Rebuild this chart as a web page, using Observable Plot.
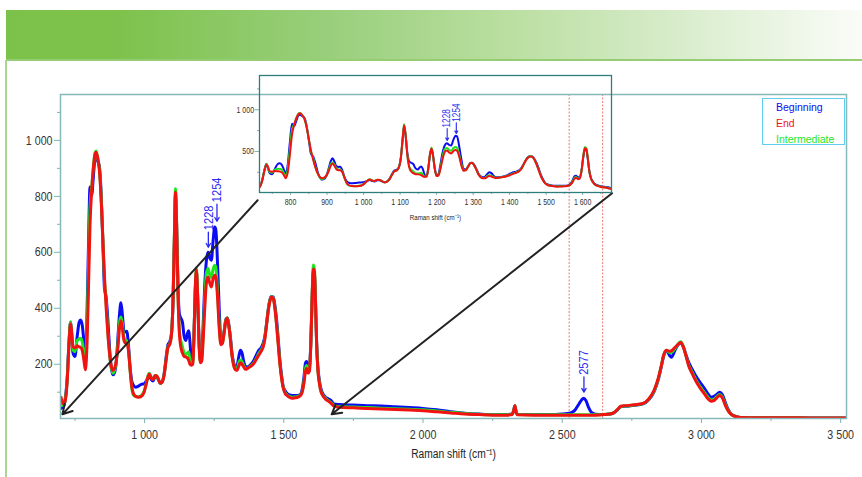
<!DOCTYPE html>
<html><head><meta charset="utf-8">
<script src="https://cdn.jsdelivr.net/npm/d3@7"></script>
<script src="https://cdn.jsdelivr.net/npm/@observablehq/plot@0.6"></script>
<style>
html,body{margin:0;padding:0;background:#fff;}
#page{position:relative;width:862px;height:477px;overflow:hidden;background:#fff;}
#band{position:absolute;left:6px;top:10px;width:856px;height:50px;
  background:linear-gradient(to right,#7cc14a 0%,#7ec24c 13%,#99cf7c 38%,#b9de9f 58%,#d7ecca 78%,#fafcf8 100%);}
#bandline{position:absolute;left:6px;top:59px;width:856px;height:2px;background:#96cc74;}
#sideline{position:absolute;left:5px;top:60px;width:2px;height:417px;background:#a9d690;}
.layer{position:absolute;left:0;top:0;}
#legend{position:absolute;left:762px;top:98px;width:83px;height:47px;box-sizing:border-box;
  border:1.5px solid #5fcdf0;padding:0 0 0 13px;font-family:"Liberation Sans",Arial,sans-serif;font-size:10.5px;line-height:16px;}
</style></head>
<body>
<div id="page">
  <div id="band"></div><div id="bandline"></div><div id="sideline"></div>
  <div id="main" class="layer"></div>
  <div id="inset" class="layer"></div>
  <div id="legend"></div>
</div>
<script>
// ---------- DATA ----------
const shift = [
  700,708,715,722,728,734,738,743,750,758,
  765,770,776,782,787,792,798,804,810,816,
  822,826,832,838,844,850,856,862,868,874,
  880,886,892,898,904,910,915,920,926,932,
  936,942,948,954,960,968,978,988,998,1006,
  1012,1017,1024,1030,1038,1044,1050,1056,1062,1070,
  1078,1084,1090,1096,1102,1107,1111,1115,1120,1125,
  1130,1136,1142,1148,1154,1158,1163,1168,1173,1177,
  1182,1186,1190,1195,1200,1205,1210,1216,1222,1228,
  1234,1240,1246,1252,1256,1262,1268,1274,1280,1286,
  1292,1297,1302,1308,1314,1320,1326,1332,1338,1344,
  1350,1356,1362,1370,1380,1390,1400,1410,1418,1426,
  1432,1438,1444,1450,1456,1462,1468,1474,1480,1486,
  1492,1498,1505,1512,1520,1530,1540,1550,1560,1566,
  1572,1578,1582,1587,1592,1597,1602,1606,1610,1614,
  1618,1622,1628,1634,1640,1650,1660,1670,1680,1700,
  1750,1800,1850,1900,1950,2000,2050,2100,2150,2200,
  2250,2300,2320,2326,2330,2334,2340,2400,2450,2500,
  2530,2545,2560,2570,2577,2585,2595,2605,2620,2650,
  2680,2700,2710,2730,2760,2790,2810,2830,2845,2855,
  2865,2875,2885,2892,2905,2915,2925,2935,2945,2955,
  2965,2980,2995,3010,3025,3035,3045,3055,3065,3075,
  3085,3095,3105,3120,3140,3200,3300,3400,3500,3520
];
const beginning = [
  42,48,75,150,270,350,300,240,228,300,
  350,358,340,280,230,330,600,833,805,870,
  935,940,925,905,810,640,470,440,360,260,
  190,162,170,205,290,380,420,380,320,315,
  318,270,190,140,125,118,122,128,130,140,
  150,158,145,140,155,155,145,132,135,165,
  230,270,280,305,420,640,805,700,480,380,
  365,350,300,285,310,320,280,215,212,290,
  460,530,460,300,215,230,330,480,570,600,
  580,572,640,690,680,560,400,290,285,320,
  360,365,345,300,240,205,190,195,225,250,
  240,210,192,190,198,210,230,250,258,275,
  300,345,395,430,442,440,410,360,290,215,
  160,120,105,95,90,88,88,88,92,110,
  150,205,210,190,190,275,440,530,520,415,
  275,195,140,110,95,82,76,70,58,56,
  54,52,51,48,45,42,37,30,25,22,
  20,20,22,36,52,32,21,20,20,22,
  26,35,58,73,78,70,45,28,21,20,
  24,38,48,50,53,58,72,102,145,188,
  232,248,232,225,250,268,276,262,232,205,
  185,158,135,115,92,82,85,92,100,92,
  65,40,24,14,10,9,9,8,8,8
];
const end = [
  82,58,70,140,260,345,320,262,258,266,
  262,260,250,215,180,240,450,700,820,900,
  950,958,935,890,790,650,510,400,310,240,
  195,178,185,210,260,330,355,330,285,275,
  276,250,180,120,95,85,82,85,100,130,
  155,165,150,145,160,158,145,132,135,160,
  220,260,270,300,420,650,815,700,450,310,
  262,240,228,226,222,215,200,196,200,290,
  470,536,460,290,205,210,280,400,490,512,
  490,476,505,518,510,440,330,270,275,315,
  355,364,340,290,230,195,180,178,192,205,
  200,190,182,185,192,200,215,232,245,262,
  290,340,390,425,440,435,400,340,270,200,
  150,115,95,88,82,78,80,82,88,100,
  130,175,185,168,175,270,450,540,530,420,
  270,185,130,100,88,75,68,60,50,46,
  44,42,40,38,36,34,30,26,22,20,
  18,18,20,35,52,30,19,18,18,18,
  18,18,18,18,18,18,18,18,18,20,
  24,40,50,52,55,60,75,107,150,190,
  235,250,246,248,260,270,278,262,228,192,
  170,140,115,95,75,68,70,80,88,80,
  55,35,22,14,10,9,9,8,8,8
];
const intermediate = [
  60,52,72,145,265,352,310,250,245,285,
  290,293,280,240,195,280,520,760,830,905,
  955,962,935,895,800,650,500,420,315,240,
  190,168,178,208,270,350,369,345,295,285,
  285,255,180,115,90,85,84,88,102,130,
  158,168,152,146,160,158,145,132,135,162,
  222,262,272,302,425,660,827,710,455,320,
  285,262,240,235,240,245,215,200,205,290,
  470,545,462,292,208,215,295,430,525,542,
  520,510,540,554,545,460,345,275,278,318,
  358,366,342,292,232,198,183,183,205,215,
  210,195,185,186,194,202,218,238,250,266,
  294,342,392,428,442,437,403,345,275,205,
  152,117,98,90,85,82,83,85,90,102,
  135,185,195,175,180,272,455,555,540,425,
  272,188,133,102,90,78,70,63,53,48,
  47,45,43,41,39,37,33,28,24,21,
  19,19,21,35,52,30,20,19,19,19,
  19,19,19,19,19,19,19,19,19,20,
  24,39,49,51,54,59,74,105,148,190,
  234,250,242,242,256,270,280,264,228,195,
  175,145,120,100,80,72,75,84,92,84,
  58,37,23,14,10,9,9,8,8,8
];
const seriesNames = ["Beginning", "End", "Intermediate"];
const seriesColors = ["#0c0cf2", "#f21212", "#1ee61e"];
const drawOrder = ["Beginning", "Intermediate", "End"];

const mainXTicks = [1000, 1500, 2000, 2500, 3000, 3500];
const mainXMinor = [750, 1250, 1750, 2250, 2750, 3250];
const mainYTicks = [200, 400, 600, 800, 1000];
const mainYMinor = [100, 300, 500, 700, 900, 1100];
const insetXTicks = [800, 900, 1000, 1100, 1200, 1300, 1400, 1500, 1600];
const insetXMinor = [750, 850, 950, 1050, 1150, 1250, 1350, 1450, 1550, 1650];
const insetYTicks = [500, 1000];
const insetYMinor = [250, 750, 1250];
const axisLabel = "Raman shift (cm\u207B\u00B9)";

const windowLines = [2525, 2645];                 // red dotted marker lines
// peak annotations: arrow from tail down to tip, label above the tail
const mainNotes = [
  {x: 1229, tip: 618, tail: 672, label: "1228"},
  {x: 1260, tip: 711, tail: 772, label: "1254"},
  {x: 2578, tip: 100, tail: 155, label: "2577"}
];
const insetNotes = [
  {x: 1229, tip: 632, tail: 776, label: "1228"},
  {x: 1254, tip: 716, tail: 845, label: "1254"}
];
const zoomLinks = [
  {x1: 1406, y1: 786, x2: 705, y2: 21},
  {x1: 2679, y1: 811, x2: 1672, y2: 21}
];

// ---------- BUILD ----------
const FONT = '"Liberation Sans",Arial,sans-serif';
const NARROW = 0.82;   // emulate the narrow face of the original
const fmt = d => d3.format(",")(d).replace(/,/g, "\u00A0");
const color = Object.fromEntries(seriesNames.map((s, i) => [s, seriesColors[i]]));
const rows = shift.map((x, i) => ({shift: x, Beginning: beginning[i], End: end[i], Intermediate: intermediate[i]}));
const tickStroke = "#7fb3b3";
const noteBlue = "#2a2af0";
const blank = () => "";

const main = Plot.plot({
  width: 862, height: 477,
  marginLeft: 60, marginRight: 16, marginTop: 94, marginBottom: 59,
  style: {background: "transparent", fontFamily: FONT, fontSize: "13px", color: "#333"},
  x: {domain: [698, 3521]},
  y: {domain: [6, 1164]},
  marks: [
    Plot.ruleX(windowLines, {stroke: "#ec8c8c", strokeDasharray: "2,1.5", strokeWidth: 1.2}),
    Plot.axisX(mainXMinor, {tickSize: 3, tickFormat: blank, label: null, stroke: tickStroke}),
    Plot.axisX(mainXTicks, {tickSize: 5, tickPadding: 6, tickFormat: fmt, label: null, stroke: tickStroke, fill: "#333"}),
    Plot.axisY(mainYMinor, {tickSize: 3, tickFormat: blank, label: null, stroke: tickStroke}),
    Plot.axisY(mainYTicks, {tickSize: 6, tickPadding: 2, tickFormat: fmt, label: null, stroke: tickStroke, fill: "#333"}),
    ...drawOrder.map(s => Plot.line(rows, {x: "shift", y: s, stroke: color[s], strokeWidth: 3, curve: "monotone-x", clip: true})),
    Plot.frame({stroke: "#86b9b9", strokeWidth: 1.5}),
    Plot.arrow(zoomLinks, {x1: "x1", y1: "y1", x2: "x2", y2: "y2", stroke: "#222", strokeWidth: 2, headLength: 8}),
    Plot.arrow(mainNotes, {x: "x", y1: "tail", y2: "tip", stroke: noteBlue, strokeWidth: 1.3, headLength: 5}),
    Plot.text(mainNotes, {x: "x", y: "tail", dy: -2, text: "label", rotate: -90, textAnchor: "start", fill: noteBlue, fontSize: 13.5}),
    Plot.text([axisLabel], {text: d => d, frameAnchor: "bottom", dy: 39, fontSize: 12.5, fill: "#222"})
  ]
});
document.getElementById("main").appendChild(main);

const inset = Plot.plot({
  width: 862, height: 477,
  marginLeft: 259, marginRight: 251, marginTop: 75, marginBottom: 285,
  style: {background: "transparent", fontFamily: FONT, fontSize: "8.5px", color: "#333"},
  x: {domain: [715, 1679]},
  y: {domain: [8, 1411]},
  marks: [
    Plot.axisX(insetXMinor, {tickSize: 2, tickFormat: blank, label: null, stroke: tickStroke}),
    Plot.axisX(insetXTicks, {tickSize: 3, tickPadding: 3, tickFormat: fmt, label: null, stroke: tickStroke, fill: "#333"}),
    Plot.axisY(insetYMinor, {tickSize: 2, tickFormat: blank, label: null, stroke: tickStroke}),
    Plot.axisY(insetYTicks, {tickSize: 4.5, tickPadding: 1, tickFormat: fmt, label: null, stroke: tickStroke, fill: "#333"}),
    ...drawOrder.map(s => Plot.line(rows, {x: "shift", y: s, stroke: color[s], strokeWidth: 2, curve: "monotone-x", clip: true})),
    Plot.frame({stroke: "#2e7f7c", strokeWidth: 1.3}),
    Plot.arrow(insetNotes, {x: "x", y1: "tail", y2: "tip", stroke: noteBlue, strokeWidth: 1.1, headLength: 4}),
    Plot.text(insetNotes, {x: "x", y: "tail", dy: -1, text: "label", rotate: -90, textAnchor: "start", fill: noteBlue, fontSize: 10}),
    Plot.text([axisLabel], {text: d => d, frameAnchor: "bottom", dy: 27, fontSize: 7.5, fill: "#222"})
  ]
});
document.getElementById("inset").appendChild(inset);

// condense the plot texts like the original narrow typeface
for (const svg of [main, inset]) {
  svg.querySelectorAll("text").forEach(t => {
    const len = t.getComputedTextLength();
    if (len > 0) {
      t.setAttribute("textLength", (len * NARROW).toFixed(2));
      t.setAttribute("lengthAdjust", "spacingAndGlyphs");
    }
  });
}

const legend = document.getElementById("legend");
seriesNames.forEach((s, i) => {
  const div = document.createElement("div");
  div.textContent = s;
  div.style.color = seriesColors[i];
  legend.appendChild(div);
});
</script>
</body></html>
